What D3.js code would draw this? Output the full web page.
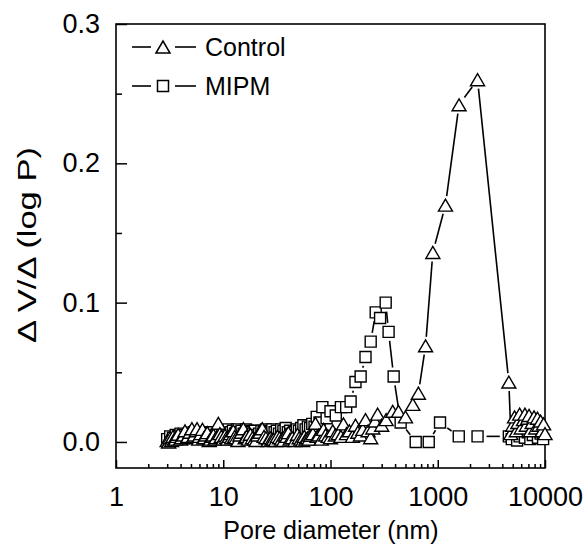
<!DOCTYPE html>
<html><head><meta charset="utf-8">
<script src="https://cdn.jsdelivr.net/npm/d3@7"></script>
<style>body{margin:0;background:#fff}svg{display:block}text{font-family:Arial,"Liberation Sans",sans-serif;fill:#000}</style>
</head><body><svg id="c" width="588" height="548"></svg>
<script>
// Control series: pore diameter (nm) and ΔV/Δ(log P)
const controlD = [3.0,3.1,3.2,3.3,3.4,3.5,3.6,3.7,3.8,4.0,4.1,4.3,4.4,4.6,4.7,4.9,5.1,5.3,5.4,5.6,5.7,5.9,6.0,6.2,6.4,6.6,6.7,6.9,7.1,7.4,7.6,7.9,8.1,8.4,8.6,9.0,9.3,9.6,10.0,10.4,10.7,11.0,11.4,11.7,12.0,12.4,12.8,13.2,13.7,14.3,14.8,15.4,16.0,16.5,17.2,17.9,18.7,19.5,20.2,21.0,22.0,23.1,24.0,25.0,26.2,27.5,28.5,29.5,30.7,32.0,33.5,35.0,36.5,38.0,39.2,40.5,42.0,44.0,46.5,49.2,51.0,53.0,55.0,57.0,59.0,61.0,63.0,65.1,68.5,72.4,75.0,78.0,82.0,86.0,90.0,95.0,100,105,111,118,125,132,141,150,160,171,180,190,200,212,224,237,248,260,275,300,330,380,430,500,585,660,770,900,1180,1580,2350,4600,4800,5000,5200,5400,5600,5800,6000,6300,6500,6700,6900,7100,7300,7600,7900,8200,8500,8800,9100,9400,9700,10000];
const controlV = [0.001,0.000,0.003,0.001,0.004,0.002,0.002,0.004,0.0055,0.002,0.003,0.005,0.008,0.003,0.004,0.007,0.0095,0.004,0.005,0.008,0.0095,0.002,0.004,0.006,0.009,0.003,0.003,0.005,0.0067,0.001,0.002,0.004,0.005,0.002,0.003,0.0134,0.006,0.004,0.002,0.0048,0.003,0.002,0.004,0.006,0.003,0.008,0.004,0.003,0.001,0.005,0.007,0.0095,0.003,0.004,0.002,0.0055,0.003,0.002,0.001,0.005,0.007,0.0095,0.004,0.003,0.001,0.003,0.002,0.002,0.001,0.004,0.003,0.002,0.001,0.005,0.004,0.0067,0.002,0.003,0.001,0.0055,0.003,0.002,0.001,0.004,0.002,0.003,0.002,0.0048,0.006,0.0134,0.004,0.005,0.002,0.009,0.005,0.004,0.003,0.008,0.005,0.006,0.004,0.013,0.006,0.008,0.004,0.012,0.007,0.005,0.009,0.016,0.008,0.003,0.010,0.015,0.020,0.012,0.016,0.022,0.022,0.018,0.027,0.035,0.069,0.136,0.170,0.242,0.260,0.043,0.006,0.012,0.018,0.008,0.014,0.020,0.010,0.016,0.020,0.012,0.017,0.019,0.008,0.014,0.018,0.010,0.017,0.012,0.015,0.008,0.013,0.006];
// MIPM series
const mipmD = [3.0,3.2,3.4,3.6,3.8,4.0,4.2,4.4,4.6,4.8,5.1,5.3,5.6,5.8,6.1,6.4,6.7,7.0,7.4,7.7,8.1,8.5,8.9,9.3,9.8,10.2,10.7,11.2,11.7,12.3,12.9,13.5,14.1,14.8,15.5,16.3,17.1,17.9,18.8,19.7,20.6,21.6,22.7,23.8,25.0,26.1,27.4,28.7,30.1,31.6,33.1,34.7,36.4,38.2,40.0,42.0,44.0,46.2,48.5,50.8,53.3,55.9,58.6,61.5,64.5,67.6,71.0,74.4,79.0,84,92,100,112,125,140,154,171,191,212,237,264,290,327,348,388,451,623,824,1050,1570,2350,4600,4900,5200,5500,5800,6100,6500,6900,7300,7700,8100,8600,9100,9600];
const mipmV = [0.002,0.004,0.003,0.005,0.004,0.006,0.003,0.005,0.004,0.006,0.005,0.007,0.004,0.005,0.006,0.005,0.007,0.006,0.004,0.006,0.007,0.005,0.006,0.007,0.005,0.008,0.006,0.009,0.007,0.008,0.006,0.009,0.007,0.008,0.006,0.009,0.008,0.007,0.006,0.008,0.005,0.006,0.008,0.007,0.009,0.008,0.007,0.009,0.007,0.008,0.006,0.009,0.008,0.010,0.007,0.008,0.006,0.007,0.009,0.008,0.010,0.012,0.009,0.011,0.010,0.013,0.011,0.018,0.014,0.025,0.017,0.022,0.019,0.025,0.025,0.029,0.043,0.047,0.061,0.072,0.093,0.089,0.100,0.079,0.047,0.014,0.0,0.0,0.014,0.004,0.004,0.004,0.002,0.006,0.001,0.004,0.008,0.003,0.007,0.002,0.005,0.008,0.003,0.006,0.002];
const xMajor = [1,10,100,1000,10000];
const xMinor = [2,3,4,5,6,7,8,9,20,30,40,50,60,70,80,90,200,300,400,500,600,700,800,900,2000,3000,4000,5000,6000,7000,8000,9000];
const yMajor = [0.0,0.1,0.2,0.3];
const yMinor = [0.05,0.15,0.25];
const seriesNames = ["Control","MIPM"];
const xTitle = "Pore diameter (nm)";
const yTitle = "\u0394 V/\u0394 (log P)";

const svg = d3.select("#c");
const L=116,R=545,T=24,B=468;
const x = d3.scaleLog().domain([1,10000]).range([L,R]);
const y = d3.scaleLinear().domain([-0.0187,0.3]).range([B,T]);
const TICKFS = 27, LEGFS = 25;

// frame
svg.append("rect").attr("x",L).attr("y",T).attr("width",R-L).attr("height",B-T)
  .attr("fill","none").attr("stroke","#000").attr("stroke-width",1.6);

// axes
const gx = svg.append("g").attr("transform",`translate(0,${B})`)
  .call(d3.axisBottom(x).tickValues(xMajor).tickSizeInner(-8).tickSizeOuter(0).tickFormat(d3.format("d")));
const gxm = svg.append("g").attr("transform",`translate(0,${B})`)
  .call(d3.axisBottom(x).tickValues(xMinor).tickSizeInner(-4).tickSizeOuter(0).tickFormat(""));
const gy = svg.append("g").attr("transform",`translate(${L},0)`)
  .call(d3.axisLeft(y).tickValues(yMajor).tickSizeInner(-11).tickSizeOuter(0).tickPadding(16).tickFormat(d3.format(".1f")));
const gym = svg.append("g").attr("transform",`translate(${L},0)`)
  .call(d3.axisLeft(y).tickValues(yMinor).tickSizeInner(-6).tickSizeOuter(0).tickFormat(""));
[gx,gxm,gy,gym].forEach(g=>{
  g.select(".domain").remove();
  g.selectAll("line").attr("stroke","#000").attr("stroke-width",1.5);
  g.selectAll("text").attr("font-size",TICKFS).attr("font-family","Arial, 'Liberation Sans', sans-serif").attr("fill","#000");
});
gx.selectAll("text").attr("y",29).attr("dy","0.35em");

svg.append("text").attr("x",331).attr("y",539).attr("text-anchor","middle").attr("font-size",25).text(xTitle);
svg.append("text").attr("transform",`translate(36,245) rotate(-90)`).attr("text-anchor","middle").attr("font-size",26)
  .attr("textLength",196).attr("lengthAdjust","spacingAndGlyphs").text(yTitle);

// marker paths
const tri = (cx,cy)=>`M${cx-7},${cy+6}L${cx},${cy-6}L${cx+7},${cy+6}Z`;
const sq = (cx,cy)=>`M${cx-5.5},${cy-5.5}h11v11h-11Z`;

function drawSeries(D,V,shape,gap){
  const pts = D.map((d,i)=>[x(d),y(V[i])]);
  const g = svg.append("g");
  for(let i=0;i<pts.length-1;i++){
    const [x1,y1]=pts[i],[x2,y2]=pts[i+1];
    const len=Math.hypot(x2-x1,y2-y1);
    if(len<=2*gap+1) continue;
    const ux=(x2-x1)/len,uy=(y2-y1)/len;
    g.append("line").attr("x1",x1+ux*gap).attr("y1",y1+uy*gap).attr("x2",x2-ux*gap).attr("y2",y2-uy*gap)
      .attr("stroke","#000").attr("stroke-width",1.6);
  }
  g.selectAll("path").data(pts).join("path").attr("d",p=>shape(p[0],p[1]))
    .attr("fill","#fff").attr("stroke","#000").attr("stroke-width",1.4);
}
drawSeries(mipmD,mipmV,sq,9);
drawSeries(controlD,controlV,tri,9);

// legend
const leg = [{n:seriesNames[0],s:tri,y:47},{n:seriesNames[1],s:sq,y:86}];
leg.forEach(l=>{
  svg.append("line").attr("x1",132).attr("x2",151).attr("y1",l.y).attr("y2",l.y).attr("stroke","#000").attr("stroke-width",1.6);
  svg.append("line").attr("x1",175).attr("x2",196).attr("y1",l.y).attr("y2",l.y).attr("stroke","#000").attr("stroke-width",1.6);
  svg.append("path").attr("d",l.s(163,l.y)).attr("fill","#fff").attr("stroke","#000").attr("stroke-width",1.5);
  svg.append("text").attr("x",205).attr("y",l.y).attr("dy","0.35em").attr("font-size",LEGFS).text(l.n);
});
</script></body></html>
